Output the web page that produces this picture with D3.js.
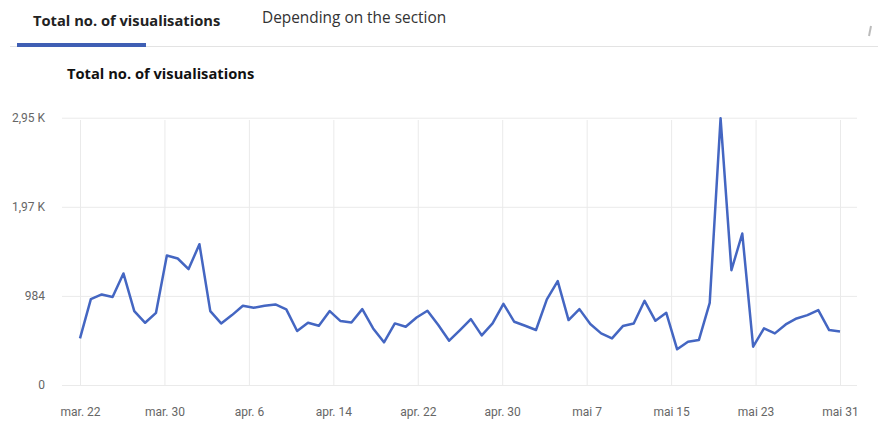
<!DOCTYPE html>
<html>
<head>
<meta charset="utf-8">
<script src="https://cdn.jsdelivr.net/npm/d3@7"></script>
<style>
  body { margin: 0; background: #fff; }
  svg { display: block; }
</style>
</head>
<body>
<div id="chart"></div>
<script>
// daily totals, mar. 22 -> mai 31
var values = [
  515, 949, 1000, 971, 1232, 816, 687, 797, 1430, 1397,
  1280, 1555, 816, 680, 772, 875, 853, 875, 890, 835,
  596, 687, 654, 816, 706, 691, 838, 625, 471, 680,
  643, 746, 820, 662, 489, 607, 728, 548, 680, 897,
  698, 654, 607, 945, 1147, 717, 838, 673, 570, 515,
  651, 680, 930, 709, 797, 394, 478, 496, 908, 2945,
  1268, 1673, 423, 625, 570, 669, 735, 772, 827, 607,
  592
];
var xTickLabels = ["mar. 22", "mar. 30", "apr. 6", "apr. 14", "apr. 22",
                   "apr. 30", "mai 7", "mai 15", "mai 23", "mai 31"];
var yTicks = [0, 984, 1968, 2952];
var yTickLabels = ["0", "984", "1,97 K", "2,95 K"];
var tabs = ["Total no. of visualisations", "Depending on the section"];
var chartTitle = "Total no. of visualisations";

var width = 878, height = 421;

var svg = d3.select("#chart").append("svg")
    .attr("width", width)
    .attr("height", height);

// tabs header
svg.append("line")
    .attr("x1", 10).attr("x2", width)
    .attr("y1", 46.5).attr("y2", 46.5)
    .attr("stroke", "#e3e3e3");

svg.append("rect")
    .attr("x", 17).attr("y", 43)
    .attr("width", 129).attr("height", 4)
    .attr("fill", "#3f5fb4");

svg.append("text")
    .attr("x", 33).attr("y", 26)
    .attr("font-family", "Open Sans, sans-serif")
    .attr("font-size", 14.7)
    .attr("font-weight", "bold")
    .attr("fill", "#222")
    .text(tabs[0]);

svg.append("text")
    .attr("x", 262).attr("y", 23)
    .attr("font-family", "Open Sans, sans-serif")
    .attr("font-size", 15.4)
    .attr("fill", "#333")
    .text(tabs[1]);

// little grey mark at the right edge
svg.append("path")
    .attr("d", "M869,36L871,26")
    .attr("stroke", "#bbb")
    .attr("stroke-width", 2);

svg.append("text")
    .attr("x", 67).attr("y", 79)
    .attr("font-family", "Open Sans, sans-serif")
    .attr("font-size", 14.7)
    .attr("font-weight", "bold")
    .attr("fill", "#111")
    .text(chartTitle);

// scales
var x = d3.scaleLinear().domain([0, values.length - 1]).range([80, 840]);
var xTick = d3.scalePoint().domain(xTickLabels).range([80, 840]);
var y = d3.scaleLinear().domain([0, 2952]).range([385, 117.7]);

// horizontal grid + y labels
var yAxis = d3.axisLeft(y)
    .tickValues(yTicks)
    .tickSize(-(857 - 62))
    .tickPadding(17)
    .tickFormat(function (d, i) { return yTickLabels[i]; });

var gy = svg.append("g")
    .attr("transform", "translate(62,0)")
    .call(yAxis);
gy.select(".domain").remove();
gy.selectAll(".tick line").attr("stroke", "#eaeaea");
gy.selectAll(".tick text")
    .attr("fill", "#666")
    .attr("font-family", "Roboto, sans-serif")
    .attr("font-size", 12);

// vertical grid + x labels
var xAxis = d3.axisBottom(xTick)
    .tickSize(-(385 - 120))
    .tickPadding(22);

var gx = svg.append("g")
    .attr("transform", "translate(0,385)")
    .call(xAxis);
gx.select(".domain").remove();
gx.selectAll(".tick line").attr("stroke", "#eaeaea");
gx.selectAll(".tick text")
    .attr("fill", "#666")
    .attr("font-family", "Roboto, sans-serif")
    .attr("font-size", 12);

// the line
var line = d3.line()
    .x(function (d, i) { return x(i); })
    .y(function (d) { return y(d); });

svg.append("path")
    .datum(values)
    .attr("d", line)
    .attr("fill", "none")
    .attr("stroke", "#4466c2")
    .attr("stroke-width", 2.5)
    .attr("stroke-linejoin", "round");
</script>
</body>
</html>
